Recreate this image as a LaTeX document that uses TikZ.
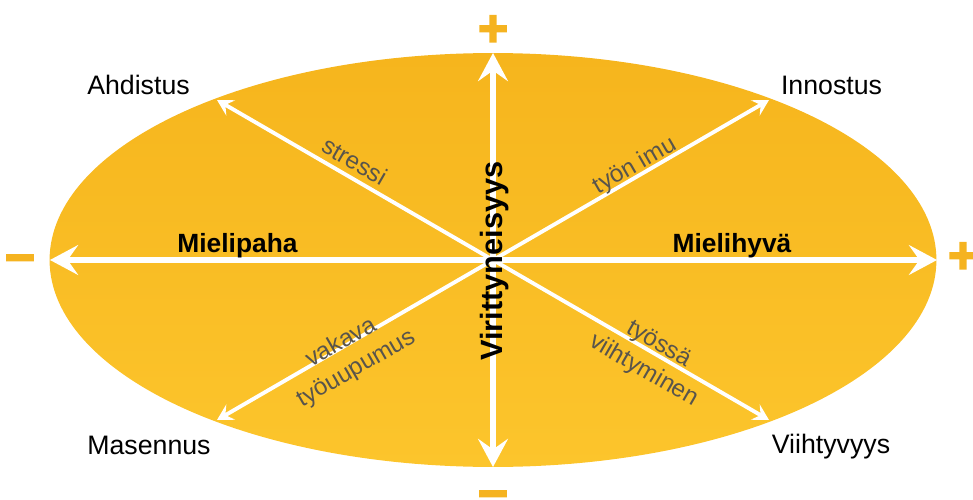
\documentclass[tikz,border=0pt]{standalone}
\usepackage{fontspec}
\setmainfont{Liberation Sans}
\newfontfamily\signfont{Liberation Sans Bold}[FakeBold=3]
\usetikzlibrary{arrows.meta}
\definecolor{MoodAmberTop}{HTML}{F6B51D}
\definecolor{MoodAmberLow}{HTML}{FCC52C}
\definecolor{MoodSign}{HTML}{F5B320}
\definecolor{MoodGray}{HTML}{58544C}

\begin{document}
\begin{tikzpicture}[x=0.02cm,y=-0.02cm,
    mainarr/.style={white,line width=3.6pt,-{Stealth[length=16pt,width=17pt,inset=6pt]}},
    diagarr/.style={white,line width=2.2pt,-{Stealth[length=9pt,width=10pt,inset=3.5pt]}},
    mood/.style={anchor=base,font=\fontsize{15.2}{18}\selectfont},
    pole/.style={anchor=base,font=\fontsize{15}{18}\selectfont\bfseries},
    route/.style={text=MoodGray,align=center,font=\fontsize{13.8}{17}\selectfont},
    sign/.style={anchor=base,text=MoodSign,inner sep=0pt,font=\signfont\fontsize{29.5}{30}\selectfont}
  ]
    \useasboundingbox (0,0) rectangle (973,500);
    \shade[top color=MoodAmberTop,bottom color=MoodAmberLow] (493,260) ellipse [x radius=8.87cm,y radius=4.14cm];
    % centre and arrow ends
    \coordinate (c) at (493,260);
    \coordinate (n) at (493,53); \coordinate (s) at (493,467);
    \coordinate (w) at (50,260); \coordinate (e) at (937,260);
    \coordinate (nw) at (217,100); \coordinate (ne) at (769,100);
    \coordinate (sw) at (217,420); \coordinate (se) at (769,420);
    \draw[mainarr] (c)--(n); \draw[mainarr] (c)--(s);
    \draw[mainarr] (c)--(w); \draw[mainarr] (c)--(e);
    \draw[diagarr] (c)--(nw); \draw[diagarr] (c)--(ne);
    \draw[diagarr] (c)--(sw); \draw[diagarr] (c)--(se);
    % moods
    \node[mood] (ahd) at (138.5,94) {Ahdistus};
    \node[mood] (inn) at (831.5,94) {Innostus};
    \node[mood] (mas) at (149,454) {Masennus};
    \node[mood] (vii) at (831,453) {Viihtyvyys};
    \node[pole] (paha) at (237.5,252) {Mielipaha};
    \node[pole] (hyva) at (732,252) {Mielihyvä};
    \node[pole,rotate=90,font=\fontsize{17.5}{20}\selectfont\bfseries] (vire) at (502,261) {Virittyneisyys};
    % routes
    \node[route,rotate=-30] (stress) at (355,161) {stressi};
    \node[route,rotate=30] (imu) at (635,166) {työn imu};
    \node[route,rotate=30] (uup) at (349,356) {vakava\\työuupumus};
    \node[route,rotate=-30] (viiht) at (651,358) {työssä\\viihtyminen};
    % signs
    \node[sign] (plusn) at (493,46) {+};
    \node[sign] (minuss) at (493,511) {−};
    \node[sign] (minusw) at (20,275) {−};
    \node[sign] (pluse) at (963,273) {+};
\end{tikzpicture}
\end{document}
